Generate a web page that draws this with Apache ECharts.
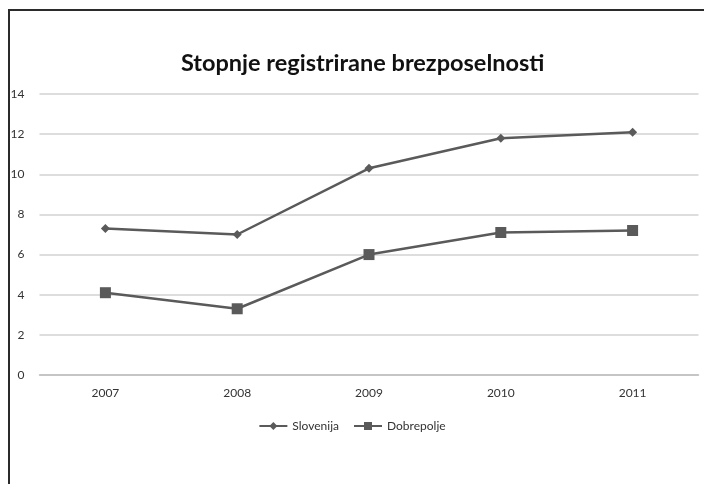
<!DOCTYPE html>
<html>
<head>
<meta charset="utf-8">
<script src="https://cdn.jsdelivr.net/npm/echarts@6/dist/echarts.min.js"></script>
<style>
html, body { margin: 0; padding: 0; background: #fff; }
.frame {
  position: absolute;
  left: 8px;
  top: 9px;
  width: 704px;
  height: 484px;
  border-top: 2px solid #2b2b2b;
  border-left: 2px solid #2b2b2b;
}
#chart { position: absolute; left: 0; top: 0; width: 704px; height: 484px; }
</style>
</head>
<body>
<div class="frame"></div>
<div id="chart"></div>
<script>
// 数据
var years = ['2007', '2008', '2009', '2010', '2011']
var slovenija = [7.3, 7.0, 10.3, 11.8, 12.1]
var dobrepolje = [4.1, 3.3, 6.0, 7.1, 7.2]
var seriesNames = ['Slovenija', 'Dobrepolje']

var myChart = echarts.init(document.getElementById('chart'))
var font = 'Lato, "Open Sans", sans-serif'
var option = {
  animation: false,
  title: {
    text: 'Stopnje registrirane brezposelnosti',
    left: 176,
    top: 46,
    textStyle: {
      fontFamily: font,
      fontSize: 23.5,
      fontWeight: 'bold',
      color: '#111'
    }
  },
  legend: {
    data: seriesNames,
    top: 415,
    left: 'center',
    itemWidth: 28,
    itemHeight: 10,
    itemGap: 14,
    textStyle: { fontFamily: font, fontSize: 12, color: '#333' }
  },
  grid: {
    left: 39.5,
    right: 5.5,
    top: 94,
    bottom: 109,
    containLabel: false
  },
  xAxis: {
    type: 'category',
    data: years,
    boundaryGap: true,
    axisLine: { lineStyle: { color: '#bdbdbd', width: 1.5 } },
    axisTick: { show: false },
    axisLabel: { fontFamily: font, fontSize: 12, color: '#333', margin: 12 }
  },
  yAxis: {
    type: 'value',
    min: 0,
    max: 14,
    interval: 2,
    axisLine: { show: false },
    axisTick: { show: false },
    axisLabel: { fontFamily: font, fontSize: 12, color: '#333', margin: 15 },
    splitLine: { lineStyle: { color: '#d2d2d2', width: 1.5 } }
  },
  series: [
    {
      name: seriesNames[0],
      type: 'line',
      data: slovenija,
      symbol: 'diamond',
      symbolSize: 9,
      lineStyle: { color: '#5a5a5a', width: 2.5 },
      itemStyle: { color: '#5a5a5a' }
    },
    {
      name: seriesNames[1],
      type: 'line',
      data: dobrepolje,
      symbol: 'rect',
      symbolSize: 11,
      lineStyle: { color: '#5a5a5a', width: 2.5 },
      itemStyle: { color: '#5a5a5a' }
    }
  ]
}
myChart.setOption(option, true)
</script>
</body>
</html>
